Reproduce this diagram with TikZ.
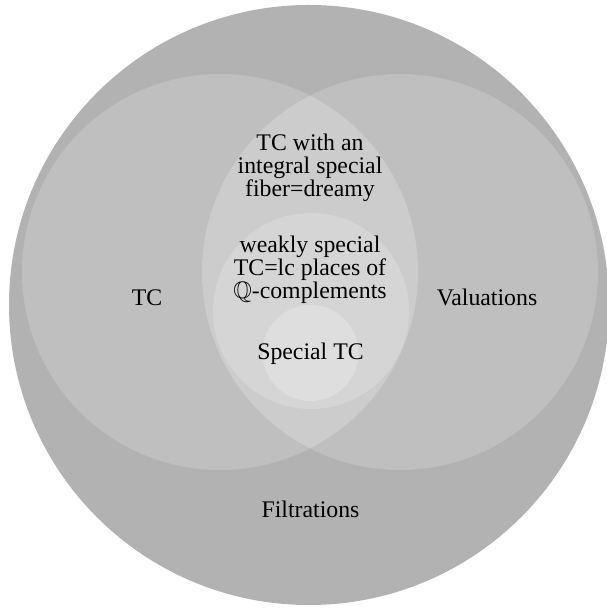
\documentclass[tikz,border=0pt]{standalone}
\usepackage{amssymb}
\usepackage{fontspec}
\setmainfont{Liberation Serif}
\newfontfamily\lblfont{Liberation Serif}
\definecolor{gOuter}{gray}{0.70}
\definecolor{gSide}{gray}{0.75}
\definecolor{gLens}{gray}{0.80}
\definecolor{gMid}{gray}{0.835}
\definecolor{gInner}{gray}{0.87}
\tikzset{
  lbl/.style={font=\lblfont\fontsize{23.8}{23}\selectfont, inner sep=0pt, align=center, text=black},
}
\begin{document}
\begin{tikzpicture}[x=1pt,y=1pt]
\useasboundingbox (0,0) rectangle (607,610);
\fill[white] (0,0) rectangle (607,610);
\begin{scope}
\clip (0,0) rectangle (607,610);
\fill[gOuter] (309,305) circle[radius=300];
\end{scope}
\fill[gSide] (220,338) circle[radius=198];
\fill[gSide] (400,338) circle[radius=198];
\begin{scope}
\clip (220,338) circle[radius=198];
\fill[gLens] (400,338) circle[radius=198];
\end{scope}
\fill[gMid] (311,299) circle[radius=98];
\fill[gInner] (310.5,257) circle[radius=48];
\node[lbl, anchor=base] (tc) at (147,304) {TC};
\node[lbl, anchor=base] (val) at (487,304) {Valuations};
\node[lbl, anchor=base] (filt) at (310.5,92) {Filtrations};
\node[lbl] (dreamy) at (310,610-168.3) {TC with an\\integral special\\fiber=dreamy};
\node[lbl] (weak) at (310,610-269.5) {weakly special\\TC=lc places of\\$\mathbb{Q}$-complements};
\node[lbl, anchor=base] (spec) at (310.5,250) {Special TC};
\end{tikzpicture}
\end{document}
